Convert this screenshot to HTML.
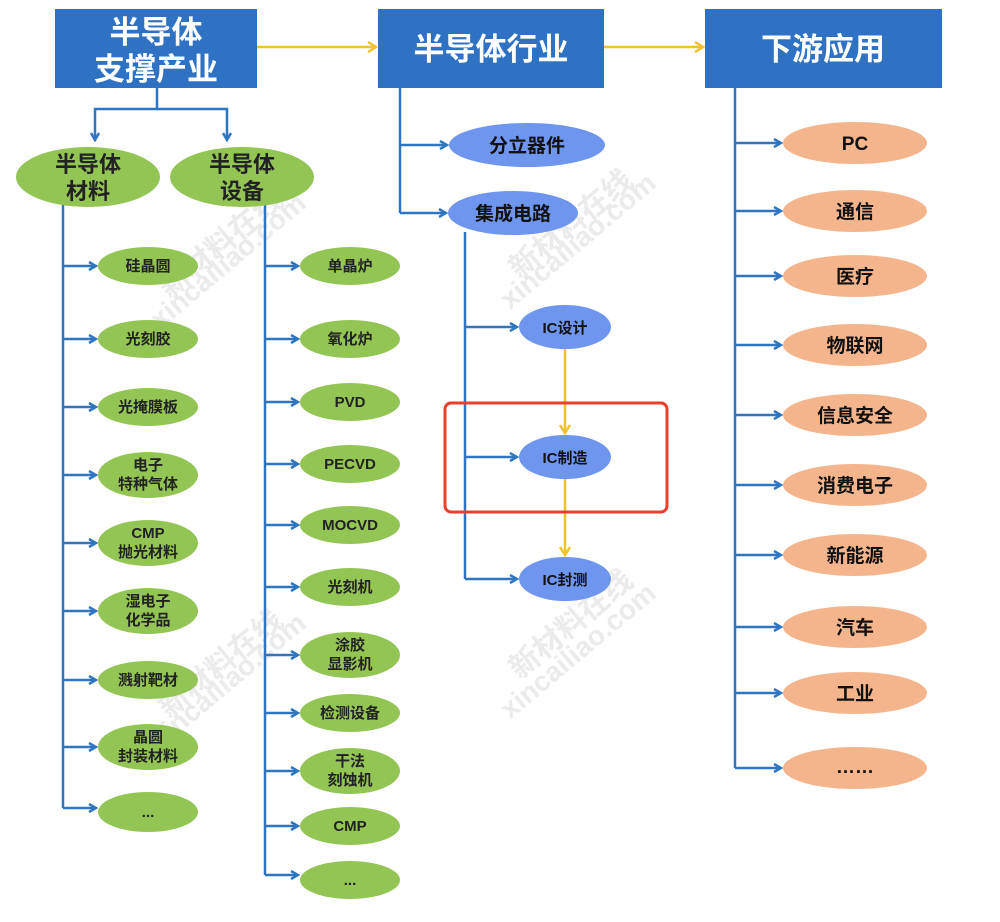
<!DOCTYPE html>
<html><head><meta charset="utf-8"><style>
html,body{margin:0;padding:0;background:#fff}
svg text{font-family:"Liberation Sans","Noto Sans CJK SC",sans-serif;font-weight:bold}
</style></head><body>
<svg width="1000" height="917" viewBox="0 0 1000 917" xmlns="http://www.w3.org/2000/svg">
<defs>
<marker id="ab" markerWidth="10" markerHeight="10" refX="8" refY="5" orient="auto" markerUnits="userSpaceOnUse"><path d="M1,1 L8,5 L1,9" fill="none" stroke="#2f75c0" stroke-width="2.5"/></marker>
<marker id="ay" markerWidth="12" markerHeight="12" refX="9" refY="6" orient="auto" markerUnits="userSpaceOnUse"><path d="M1,1 L9,6 L1,11" fill="none" stroke="#f2c12e" stroke-width="2.5"/></marker>
</defs>
<!-- watermarks -->
<g fill="#ebebeb" font-size="30">
<text transform="translate(170,300) rotate(-40)">新材料在线</text>
<text transform="translate(160,330) rotate(-40)" font-size="28">xincailiao.com</text>
<text transform="translate(520,280) rotate(-40)">新材料在线</text>
<text transform="translate(510,310) rotate(-40)" font-size="28">xincailiao.com</text>
<text transform="translate(520,680) rotate(-40)">新材料在线</text>
<text transform="translate(510,720) rotate(-40)" font-size="28">xincailiao.com</text>
<text transform="translate(170,720) rotate(-40)">新材料在线</text>
<text transform="translate(160,750) rotate(-40)" font-size="28">xincailiao.com</text>
</g>
<!-- top boxes -->
<rect x="55" y="9" width="202" height="79" fill="#2f72c4"/>
<text x="156" y="43" fill="#fff" font-size="31" text-anchor="middle">半导体</text>
<text x="156" y="80" fill="#fff" font-size="31" text-anchor="middle">支撑产业</text>
<rect x="378" y="9" width="226" height="79" fill="#2f72c4"/>
<text x="491" y="60" fill="#fff" font-size="31" text-anchor="middle">半导体行业</text>
<rect x="705" y="9" width="237" height="79" fill="#2f72c4"/>
<text x="823" y="60" fill="#fff" font-size="31" text-anchor="middle">下游应用</text>
<g stroke="#f2c12e" stroke-width="2.5" fill="none">
<line x1="257" y1="47" x2="376" y2="47" marker-end="url(#ay)"/>
<line x1="604" y1="47" x2="703" y2="47" marker-end="url(#ay)"/>
<line x1="565" y1="349" x2="565" y2="433" marker-end="url(#ay)"/>
<line x1="565" y1="479" x2="565" y2="555" marker-end="url(#ay)"/>
</g>
<g stroke="#2f75c0" stroke-width="2.5" fill="none">
<path d="M157,88 V109 H95 V140" marker-end="url(#ab)"/>
<path d="M157,109 H227 V140" marker-end="url(#ab)"/>
<line x1="63" y1="205" x2="63" y2="808"/>
<line x1="265" y1="205" x2="265" y2="875"/>
<line x1="400" y1="88" x2="400" y2="213"/>
<line x1="400" y1="145" x2="447" y2="145" marker-end="url(#ab)"/>
<line x1="400" y1="213" x2="446" y2="213" marker-end="url(#ab)"/>
<line x1="465" y1="232" x2="465" y2="579"/>
<line x1="465" y1="327" x2="517" y2="327" marker-end="url(#ab)"/>
<line x1="465" y1="457" x2="517" y2="457" marker-end="url(#ab)"/>
<line x1="465" y1="579" x2="517" y2="579" marker-end="url(#ab)"/>
<line x1="735" y1="88" x2="735" y2="768"/>
<line x1="63" y1="266" x2="96" y2="266" marker-end="url(#ab)"/>
<line x1="63" y1="339" x2="96" y2="339" marker-end="url(#ab)"/>
<line x1="63" y1="407" x2="96" y2="407" marker-end="url(#ab)"/>
<line x1="63" y1="475" x2="96" y2="475" marker-end="url(#ab)"/>
<line x1="63" y1="543" x2="96" y2="543" marker-end="url(#ab)"/>
<line x1="63" y1="611" x2="96" y2="611" marker-end="url(#ab)"/>
<line x1="63" y1="680" x2="96" y2="680" marker-end="url(#ab)"/>
<line x1="63" y1="747" x2="96" y2="747" marker-end="url(#ab)"/>
<line x1="63" y1="808" x2="96" y2="808" marker-end="url(#ab)"/>
<line x1="265" y1="266" x2="298" y2="266" marker-end="url(#ab)"/>
<line x1="265" y1="339" x2="298" y2="339" marker-end="url(#ab)"/>
<line x1="265" y1="402" x2="298" y2="402" marker-end="url(#ab)"/>
<line x1="265" y1="464" x2="298" y2="464" marker-end="url(#ab)"/>
<line x1="265" y1="525" x2="298" y2="525" marker-end="url(#ab)"/>
<line x1="265" y1="587" x2="298" y2="587" marker-end="url(#ab)"/>
<line x1="265" y1="655" x2="298" y2="655" marker-end="url(#ab)"/>
<line x1="265" y1="713" x2="298" y2="713" marker-end="url(#ab)"/>
<line x1="265" y1="771" x2="298" y2="771" marker-end="url(#ab)"/>
<line x1="265" y1="826" x2="298" y2="826" marker-end="url(#ab)"/>
<line x1="265" y1="875" x2="298" y2="875" marker-end="url(#ab)"/>
<line x1="735" y1="143" x2="781" y2="143" marker-end="url(#ab)"/>
<line x1="735" y1="211" x2="781" y2="211" marker-end="url(#ab)"/>
<line x1="735" y1="276" x2="781" y2="276" marker-end="url(#ab)"/>
<line x1="735" y1="345" x2="781" y2="345" marker-end="url(#ab)"/>
<line x1="735" y1="415" x2="781" y2="415" marker-end="url(#ab)"/>
<line x1="735" y1="485" x2="781" y2="485" marker-end="url(#ab)"/>
<line x1="735" y1="555" x2="781" y2="555" marker-end="url(#ab)"/>
<line x1="735" y1="627" x2="781" y2="627" marker-end="url(#ab)"/>
<line x1="735" y1="693" x2="781" y2="693" marker-end="url(#ab)"/>
<line x1="735" y1="768" x2="781" y2="768" marker-end="url(#ab)"/>
</g>
<!-- green -->
<g fill="#93c555">
<ellipse cx="88" cy="177" rx="72" ry="30"/><ellipse cx="242" cy="177" rx="72" ry="30"/>
<ellipse cx="148" cy="266" rx="50" ry="19"/><ellipse cx="148" cy="339" rx="50" ry="19"/>
<ellipse cx="148" cy="407" rx="50" ry="19"/><ellipse cx="148" cy="475" rx="50" ry="23"/>
<ellipse cx="148" cy="543" rx="50" ry="23"/><ellipse cx="148" cy="611" rx="50" ry="23"/>
<ellipse cx="148" cy="680" rx="50" ry="19"/><ellipse cx="148" cy="747" rx="50" ry="23"/>
<ellipse cx="148" cy="812" rx="50" ry="20"/>
<ellipse cx="350" cy="266" rx="50" ry="19"/><ellipse cx="350" cy="339" rx="50" ry="19"/>
<ellipse cx="350" cy="402" rx="50" ry="19"/><ellipse cx="350" cy="464" rx="50" ry="19"/>
<ellipse cx="350" cy="525" rx="50" ry="19"/><ellipse cx="350" cy="587" rx="50" ry="19"/>
<ellipse cx="350" cy="655" rx="50" ry="23"/><ellipse cx="350" cy="713" rx="50" ry="19"/>
<ellipse cx="350" cy="771" rx="50" ry="23"/><ellipse cx="350" cy="826" rx="50" ry="19"/>
<ellipse cx="350" cy="880" rx="50" ry="19"/>
</g>
<g fill="#222" font-size="22" text-anchor="middle">
<text x="88" y="172">半导体</text><text x="88" y="199">材料</text>
<text x="242" y="172">半导体</text><text x="242" y="199">设备</text>
</g>
<g fill="#222" font-size="15" text-anchor="middle">
<text x="148" y="271">硅晶圆</text><text x="148" y="344">光刻胶</text>
<text x="148" y="412">光掩膜板</text>
<text x="148" y="470">电子</text><text x="148" y="489">特种气体</text>
<text x="148" y="538">CMP</text><text x="148" y="557">抛光材料</text>
<text x="148" y="606">湿电子</text><text x="148" y="625">化学品</text>
<text x="148" y="685">溅射靶材</text>
<text x="148" y="742">晶圆</text><text x="148" y="761">封装材料</text>
<text x="148" y="817">...</text>
<text x="350" y="271">单晶炉</text><text x="350" y="344">氧化炉</text>
<text x="350" y="407">PVD</text><text x="350" y="469">PECVD</text>
<text x="350" y="530">MOCVD</text><text x="350" y="592">光刻机</text>
<text x="350" y="650">涂胶</text><text x="350" y="669">显影机</text>
<text x="350" y="718">检测设备</text>
<text x="350" y="766">干法</text><text x="350" y="785">刻蚀机</text>
<text x="350" y="831">CMP</text><text x="350" y="885">...</text>
</g>
<!-- blue ellipses -->
<g fill="#6f96ef">
<ellipse cx="527" cy="145" rx="78" ry="22"/><ellipse cx="513" cy="213" rx="65" ry="22"/>
<ellipse cx="565" cy="327" rx="46" ry="22"/><ellipse cx="565" cy="457" rx="46" ry="22"/>
<ellipse cx="565" cy="579" rx="46" ry="22"/>
</g>
<g fill="#111" text-anchor="middle">
<text x="527" y="152" font-size="19">分立器件</text><text x="513" y="220" font-size="19">集成电路</text>
<text x="565" y="333" font-size="15">IC设计</text><text x="565" y="463" font-size="15">IC制造</text>
<text x="565" y="585" font-size="15">IC封测</text>
</g>
<rect x="445" y="403" width="222" height="109" rx="6" fill="none" stroke="#e8402a" stroke-width="3"/>
<!-- orange -->
<g fill="#f5b58c">
<ellipse cx="855" cy="143" rx="72" ry="21"/><ellipse cx="855" cy="211" rx="72" ry="21"/>
<ellipse cx="855" cy="276" rx="72" ry="21"/><ellipse cx="855" cy="345" rx="72" ry="21"/>
<ellipse cx="855" cy="415" rx="72" ry="21"/><ellipse cx="855" cy="485" rx="72" ry="21"/>
<ellipse cx="855" cy="555" rx="72" ry="21"/><ellipse cx="855" cy="627" rx="72" ry="21"/>
<ellipse cx="855" cy="693" rx="72" ry="21"/><ellipse cx="855" cy="768" rx="72" ry="21"/>
</g>
<g fill="#111" font-size="19" text-anchor="middle">
<text x="855" y="150">PC</text><text x="855" y="218">通信</text><text x="855" y="283">医疗</text>
<text x="855" y="352">物联网</text><text x="855" y="422">信息安全</text><text x="855" y="492">消费电子</text>
<text x="855" y="562">新能源</text><text x="855" y="634">汽车</text><text x="855" y="700">工业</text>
<text x="855" y="773">……</text>
</g>
</svg>
</body></html>
